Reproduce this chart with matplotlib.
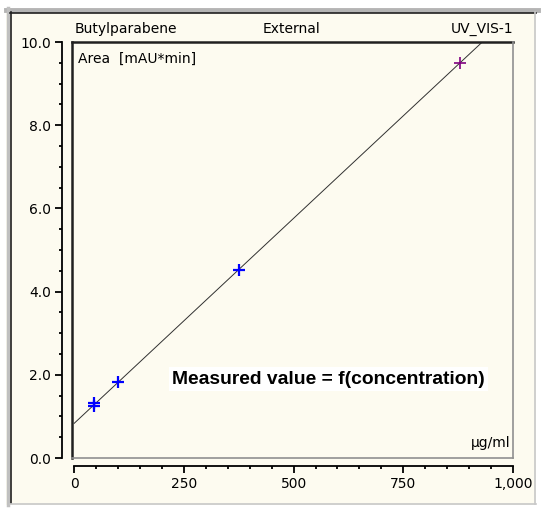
import numpy as np
import matplotlib
matplotlib.use('Agg')
import matplotlib.pyplot as plt
from matplotlib.patches import Rectangle
from matplotlib.lines import Line2D

# calibration points (concentration in µg/ml, area in mAU*min)
conc_blue = [46, 46, 100, 375]
area_blue = [1.33, 1.24, 1.83, 4.52]
conc_purple = [879]
area_purple = [9.50]

x_ticks = [0, 250, 500, 750, 1000]
x_labels = ['0', '250', '500', '750', '1,000']
y_ticks = [0, 2, 4, 6, 8, 10]
y_labels = ['0.0', '2.0', '4.0', '6.0', '8.0', '10.0']

W, H = 541, 509
cream = '#fdfbf0'

fig = plt.figure(figsize=(W / 100, H / 100), dpi=100)
fig.patch.set_facecolor('white')


def fx(px):
    return px / W


def fy(py):
    return 1 - py / H


# window frame
fig.patches.append(Rectangle((fx(6), fy(505)), fx(530), 497 / H, transform=fig.transFigure,
                             facecolor=cream, edgecolor='none', zorder=-5))
fig.add_artist(Line2D([fx(6), fx(538)], [fy(10), fy(10)], color='#b4b4b4', lw=3.5))
fig.add_artist(Line2D([fx(8), fx(8)], [fy(8), fy(505)], color='#c0c0c0', lw=2.5))
fig.add_artist(Line2D([fx(10), fx(536)], [fy(12.5), fy(12.5)], color='#202020', lw=1.2))
fig.add_artist(Line2D([fx(10.5), fx(10.5)], [fy(12), fy(503)], color='#202020', lw=1.2))
fig.add_artist(Line2D([fx(535), fx(535)], [fy(12), fy(504)], color='#c8c8c8', lw=1.2))
fig.add_artist(Line2D([fx(10), fx(536)], [fy(503.5), fy(503.5)], color='#c8c8c8', lw=1.2))

ax = fig.add_axes([fx(72), fy(458), fx(513 - 72), (458 - 42) / H], zorder=1)
ax.set_facecolor(cream)

# regression line
coef = np.polyfit(conc_blue + conc_purple, area_blue + area_purple, 1)
xs = np.array([0, 1000])
ax.plot(xs, np.polyval(coef, xs), color='#303030', lw=0.7)

ax.plot(conc_blue, area_blue, '+', color='#0000ff', ms=9, mew=1.6)
ax.plot(conc_purple, area_purple, '+', color='#800080', ms=8.5, mew=1.2)

ax.set_xlim(-5, 1000)
ax.set_ylim(0, 10)

# axes drawn apart from the plot frame
for s in ['top', 'right']:
    ax.spines[s].set_visible(False)
ax.spines['left'].set_position(('outward', 7))
ax.spines['bottom'].set_position(('outward', 6))
ax.spines['left'].set_bounds(0, 10)
ax.spines['bottom'].set_bounds(0, 1000)
ax.spines['left'].set_linewidth(1.3)
ax.spines['bottom'].set_linewidth(1.3)

ax.set_xticks(x_ticks)
ax.set_xticklabels(x_labels)
ax.set_xticks(np.arange(0, 1001, 50), minor=True)
ax.set_yticks(y_ticks)
ax.set_yticklabels(y_labels)
ax.set_yticks(np.arange(0, 10.01, 0.5), minor=True)
ax.tick_params(which='major', direction='out', length=5, width=1.3, labelsize=10, pad=3)
ax.tick_params(which='minor', direction='out', length=2.5, width=1.3)

# sunken plot frame
ax.add_line(Line2D([0, 0], [0, 1], transform=ax.transAxes, color='#202020', lw=1.8, clip_on=False))
ax.add_line(Line2D([0, 1], [1, 1], transform=ax.transAxes, color='#202020', lw=1.8, clip_on=False))
ax.add_line(Line2D([1, 1], [0, 1], transform=ax.transAxes, color='#909090', lw=1.2, clip_on=False))
ax.add_line(Line2D([0, 1], [0, 0], transform=ax.transAxes, color='#909090', lw=1.2, clip_on=False))

# texts
fig.text(fx(75), fy(29), 'Butylparabene', fontsize=10, va='center', ha='left')
fig.text(fx(291), fy(29), 'External', fontsize=10, va='center', ha='center')
fig.text(fx(513), fy(29), 'UV_VIS-1', fontsize=10, va='center', ha='right')
fig.text(fx(78), fy(59), 'Area  [mAU*min]', fontsize=10, va='center', ha='left')
fig.text(fx(510), fy(443), 'µg/ml', fontsize=10, va='center', ha='right')
fig.text(fx(172), fy(379), 'Measured value = f(concentration)', fontsize=13.9,
         family='Liberation Sans', weight='bold', va='center', ha='left',
         bbox=dict(facecolor='white', edgecolor='none', pad=2.5))

fig.savefig('out.png', dpi=100)
